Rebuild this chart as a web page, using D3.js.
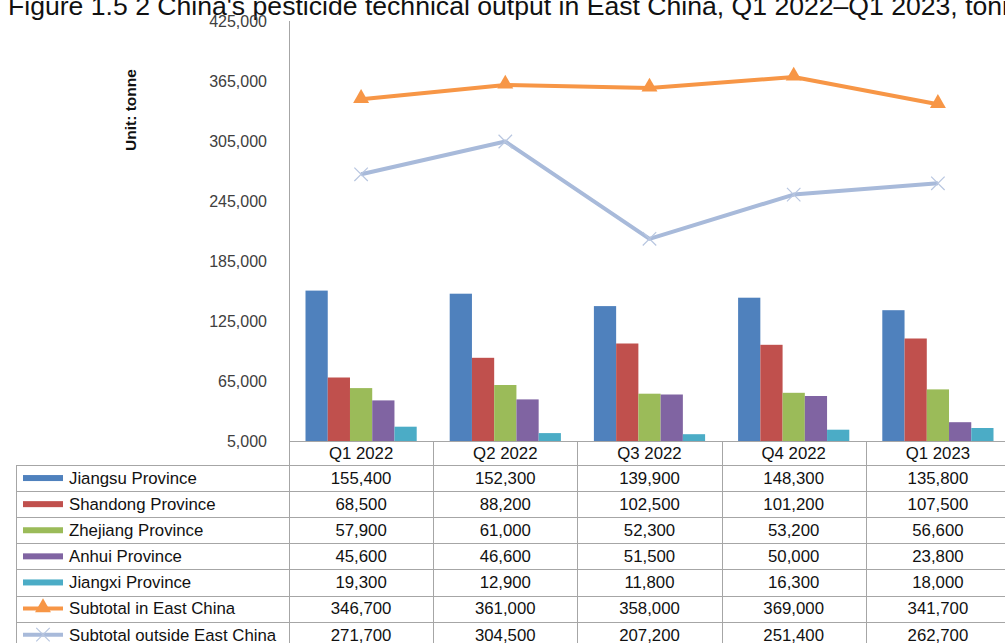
<!DOCTYPE html>
<html>
<head>
<meta charset="utf-8">
<script src="https://cdn.jsdelivr.net/npm/d3@7"></script>
<style>
  body { margin: 0; background: #fff; }
  svg { font-family: "Liberation Sans", Arial, sans-serif; }
  .y-axis text { font-size: 16px; fill: #404040; }
  .y-axis path { stroke: #888; }
  .cell { font-size: 16.8px; fill: #111; }
</style>
</head>
<body>
<svg width="1005" height="643"></svg>
<script>
// Data
const categories = ["Q1 2022", "Q2 2022", "Q3 2022", "Q4 2022", "Q1 2023"];
const barNames = ["Jiangsu Province", "Shandong Province", "Zhejiang Province", "Anhui Province", "Jiangxi Province"];
const jiangsu = [155400, 152300, 139900, 148300, 135800];
const shandong = [68500, 88200, 102500, 101200, 107500];
const zhejiang = [57900, 61000, 52300, 53200, 56600];
const anhui = [45600, 46600, 51500, 50000, 23800];
const jiangxi = [19300, 12900, 11800, 16300, 18000];
const lineNames = ["Subtotal in East China", "Subtotal outside East China"];
const eastChina = [346700, 361000, 358000, 369000, 341700];
const outsideEast = [271700, 304500, 207200, 251400, 262700];
const yTicks = [5000, 65000, 125000, 185000, 245000, 305000, 365000, 425000];

const barValues = [jiangsu, shandong, zhejiang, anhui, jiangxi];
const lineValues = [eastChina, outsideEast];
const barColors = ["#4F81BD", "#C0504D", "#9BBB59", "#8064A2", "#4BACC6"];
const lineColors = ["#F79646", "#A8BADA"];

const svg = d3.select("svg");
const fmt = d3.format(",");

// Title (cropped at the top and right like the source image)
svg.append("text")
  .attr("x", 8)
  .attr("y", 15)
  .attr("font-size", 26.6)
  .attr("fill", "#111")
  .text("Figure 1.5 2 China's pesticide technical output in East China, Q1 2022\u2013Q1 2023, tonne");

// Scales
const x = d3.scaleBand().domain(categories).range([289, 1010]);
const xi = d3.scaleBand().domain(barNames).range([16.5, x.bandwidth() - 16.5]);
const y = d3.scaleLinear().domain([5000, 425000]).range([441, 21]);

// Y axis
const yAxis = d3.axisLeft(y).tickValues(yTicks).tickFormat(fmt).tickSize(0).tickPadding(22);
svg.append("g")
  .attr("class", "y-axis")
  .attr("transform", "translate(289,0)")
  .call(yAxis);

// Unit label
svg.append("text")
  .attr("transform", "translate(136,110) rotate(-90)")
  .attr("text-anchor", "middle")
  .attr("font-size", 15.5)
  .attr("font-weight", "bold")
  .attr("fill", "#111")
  .text("Unit: tonne");

// Bars
barNames.forEach((name, s) => {
  svg.append("g")
    .selectAll("rect")
    .data(barValues[s])
    .join("rect")
    .attr("x", (d, i) => x(categories[i]) + xi(name))
    .attr("width", xi.bandwidth())
    .attr("y", d => y(d))
    .attr("height", d => y(5000) - y(d))
    .attr("fill", barColors[s]);
});

// Lines
const line = d3.line()
  .x((d, i) => x(categories[i]) + x.bandwidth() / 2)
  .y(d => y(d));

const tri = d3.symbol().type(d3.symbolTriangle).size(110);
const cross = d3.symbol().type(d3.symbolX).size(120);

function marker(g, s, px, py) {
  if (s === 0) {
    g.append("path")
      .attr("d", tri())
      .attr("transform", `translate(${px},${py - 1})`)
      .attr("fill", lineColors[0]);
  } else {
    g.append("path")
      .attr("d", cross())
      .attr("transform", `translate(${px},${py})`)
      .attr("fill", "none")
      .attr("stroke", "#B8C6E0")
      .attr("stroke-width", 1.2);
  }
}

lineNames.forEach((name, s) => {
  const g = svg.append("g");
  g.append("path")
    .datum(lineValues[s])
    .attr("d", line)
    .attr("fill", "none")
    .attr("stroke", lineColors[s])
    .attr("stroke-width", 4)
    .attr("stroke-linejoin", "round");
  lineValues[s].forEach((d, i) => marker(g, s, x(categories[i]) + x.bandwidth() / 2, y(d)));
});

// Data table
const rowNames = barNames.concat(lineNames);
const rowValues = barValues.concat(lineValues);
const row = d3.scaleBand().domain(rowNames).range([465, 465 + 26.1 * 7]);
const grid = svg.append("g").attr("stroke", "#a6a6a6").attr("stroke-width", 1);

// horizontal lines
grid.append("line").attr("x1", 289).attr("x2", 1005).attr("y1", 441.5).attr("y2", 441.5);
rowNames.forEach(n => {
  grid.append("line").attr("x1", 16).attr("x2", 1005)
    .attr("y1", Math.round(row(n)) + 0.5).attr("y2", Math.round(row(n)) + 0.5);
});
// vertical lines
grid.append("line").attr("x1", 16.5).attr("x2", 16.5).attr("y1", row(rowNames[0])).attr("y2", 643);
categories.forEach(c => {
  grid.append("line").attr("x1", Math.round(x(c)) + 0.5).attr("x2", Math.round(x(c)) + 0.5)
    .attr("y1", c === categories[0] ? 21 : 441).attr("y2", 643);
});

// header
svg.append("g").selectAll("text")
  .data(categories)
  .join("text")
  .attr("class", "cell")
  .attr("x", d => x(d) + x.bandwidth() / 2)
  .attr("y", 453)
  .attr("dy", "0.35em")
  .attr("text-anchor", "middle")
  .text(d => d);

// rows
rowNames.forEach((name, r) => {
  const cy = row(name) + row.bandwidth() / 2;
  const g = svg.append("g");
  if (r < barNames.length) {
    g.append("rect").attr("x", 23).attr("y", cy - 3).attr("width", 40).attr("height", 6)
      .attr("fill", barColors[r]);
  } else {
    const s = r - barNames.length;
    g.append("line").attr("x1", 23).attr("x2", 63).attr("y1", cy).attr("y2", cy)
      .attr("stroke", lineColors[s]).attr("stroke-width", 4);
    marker(g, s, 43, cy);
  }
  g.append("text").attr("class", "cell")
    .attr("x", 69).attr("y", cy).attr("dy", "0.35em")
    .text(name);
  g.selectAll("text.v")
    .data(rowValues[r])
    .join("text")
    .attr("class", "cell v")
    .attr("x", (d, i) => x(categories[i]) + x.bandwidth() / 2)
    .attr("y", cy)
    .attr("dy", "0.35em")
    .attr("text-anchor", "middle")
    .text(d => fmt(d));
});
</script>
</body>
</html>
